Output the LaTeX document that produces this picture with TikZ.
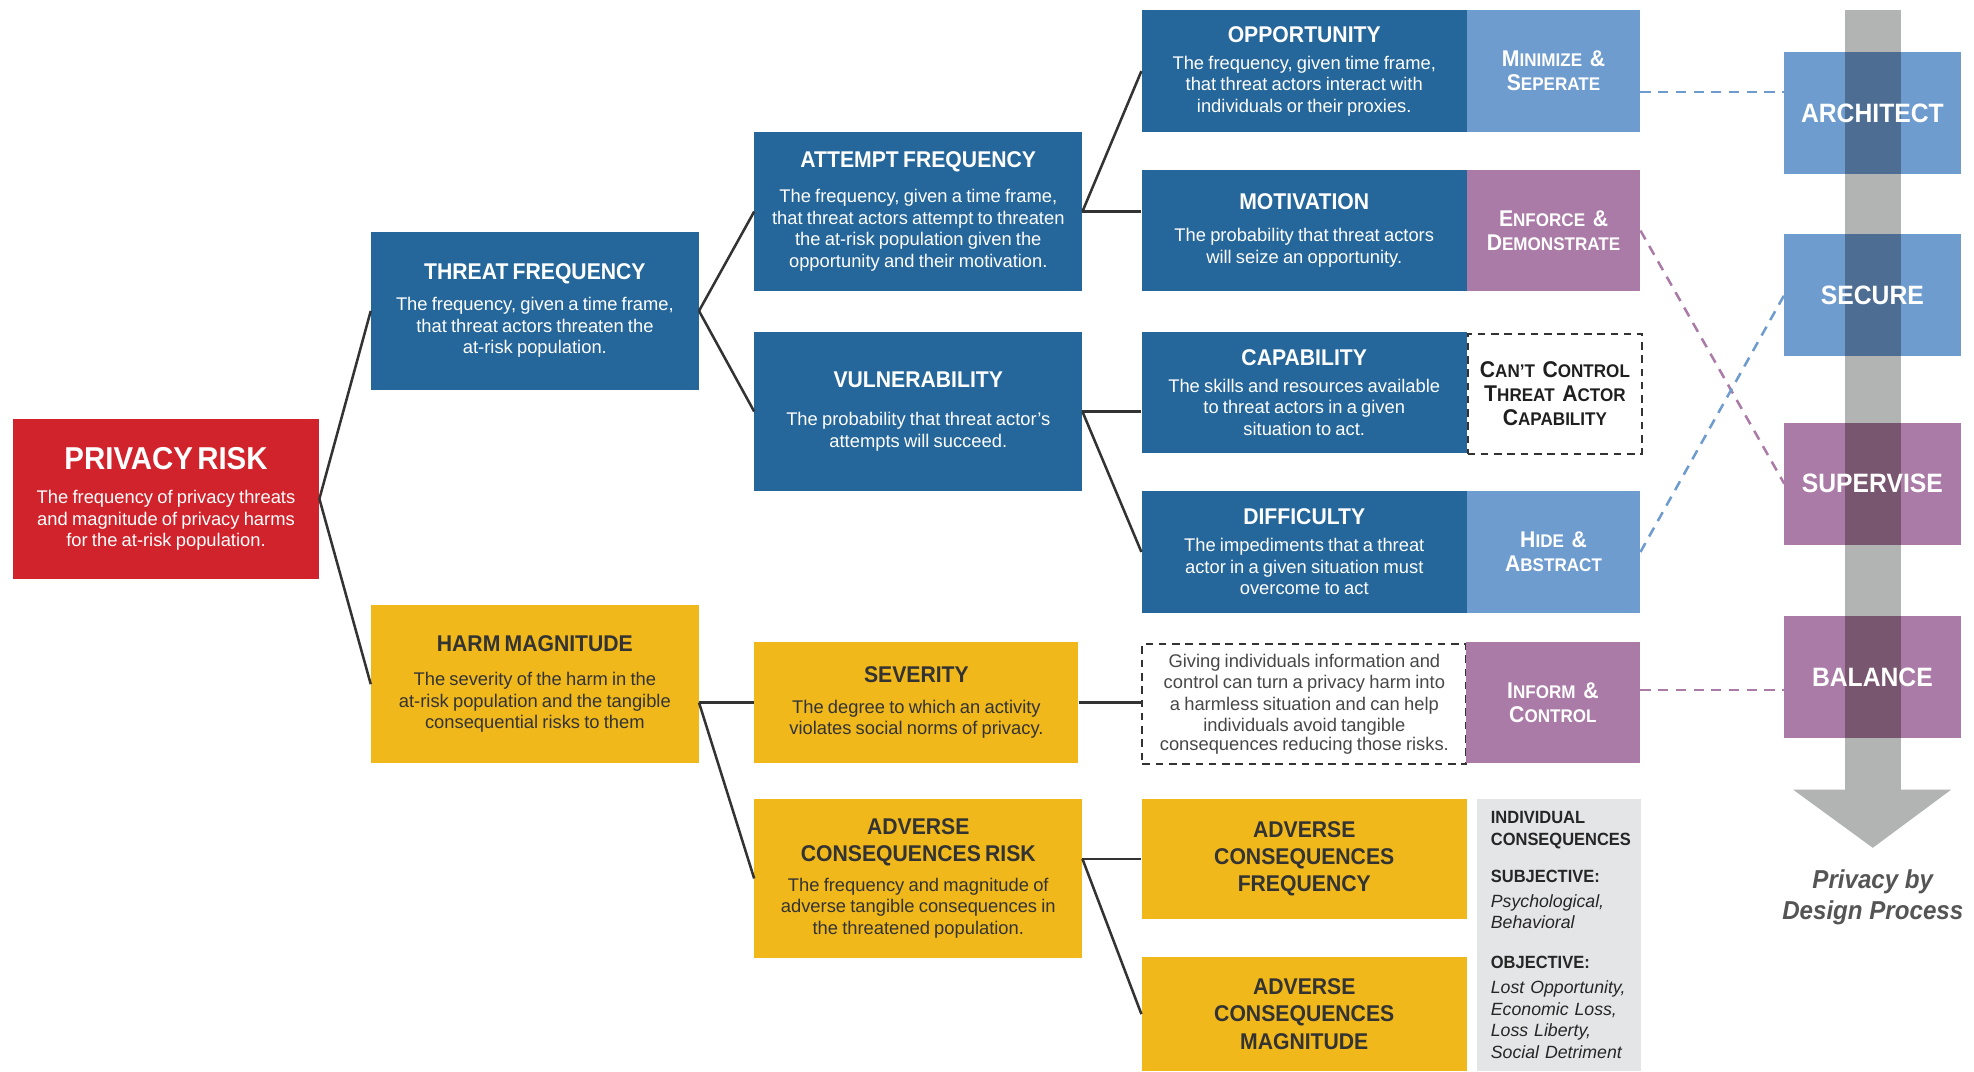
\documentclass[tikz,border=0pt]{standalone}
\usepackage{fontspec}
\newfontfamily\nf{Liberation Sans}[FakeStretch=0.93]
\newfontfamily\nb{Liberation Sans}
\usetikzlibrary{calc}
\definecolor{dblue}{HTML}{25679A}
\definecolor{lblue}{HTML}{6E9CCF}
\definecolor{purp}{HTML}{AB7BA7}
\definecolor{rred}{HTML}{D1232B}
\definecolor{yel}{HTML}{F0B81B}
\definecolor{gboxc}{HTML}{E4E5E7}
\definecolor{shaftc}{HTML}{B2B3B3}
\definecolor{ovblue}{HTML}{4D6D92}
\definecolor{ovpurp}{HTML}{78566F}
\definecolor{ink}{HTML}{333333}
\definecolor{pbdc}{HTML}{555555}
\newcommand\ttl{\nf\bfseries\fontsize{18}{21.5}\selectfont}
\newcommand\bdy{\nb\fontsize{14.5}{17}\selectfont}
\newcommand\bx[3]{{\ttl #1\par}\vspace{#2}{\bdy #3\par}}
\newcommand\SCx[2]{{\fontsize{18}{19}\selectfont #1}{\fontsize{14.5}{19}\selectfont #2}}
\pgfdeclarelayer{bg}
\pgfsetlayers{bg,main}
\tikzset{
  box/.style={rectangle, inner sep=0pt, anchor=north west, align=center},
  sz/.style n args={3}{minimum width=#1pt, minimum height=#2pt, text width=#3pt},
  bluebox/.style={box, fill=dblue, text=white},
  yelbox/.style={box, fill=yel, text=ink},
  lab/.style={box, text=white, font=\nf\bfseries\fontsize{18}{19}\selectfont},
  dbox/.style={box, draw=ink, line width=1.6pt, dash pattern=on 6pt off 4.5pt},
  rbox/.style={rectangle, inner sep=0pt, anchor=north west, minimum width=139pt, minimum height=96pt, text=white, font=\nf\bfseries\fontsize{21}{24}\selectfont},
  conn/.style={draw=ink, line width=2pt},
  dconn/.style={line width=2pt, dash pattern=on 8pt off 6pt},
}
\begin{document}
\begin{tikzpicture}[x=1pt,y=-1pt]
\useasboundingbox (0,0) rectangle (1560,846.4);
% column 1
\node[box, fill=rred, text=white, sz={242}{126}{236}] (pr) at (10,331)
  {{\nf\bfseries\fontsize{25}{28}\selectfont PRIVACY RISK\par}\vspace{10pt}{\bdy The frequency of privacy threats\\ and magnitude of privacy harms\\ for the at-risk population.\par}};
% column 2
\node[bluebox, sz={259}{125}{255}] (tf) at (293,183)
  {\bx{THREAT FREQUENCY}{7.5pt}{The frequency, given a time frame,\\ that threat actors threaten the\\ at-risk population.}};
\node[yelbox, sz={259}{125}{255}] (hm) at (293,478)
  {\bx{HARM MAGNITUDE}{9.5pt}{The severity of the harm in the\\ at-risk population and the tangible\\ consequential risks to them}};
% column 3
\node[bluebox, sz={259}{126}{255}] (at) at (596,104)
  {\bx{ATTEMPT FREQUENCY}{10.5pt}{The frequency, given a time frame,\\ that threat actors attempt to threaten\\ the at-risk population given the\\ opportunity and their motivation.}};
\node[bluebox, sz={259}{126}{255}] (vu) at (596,262)
  {\bx{VULNERABILITY}{13.5pt}{The probability that threat actor’s\\ attempts will succeed.}};
\node[yelbox, sz={256}{96}{252}] (sv) at (596,507)
  {\bx{SEVERITY}{7.5pt}{The degree to which an activity\\ violates social norms of privacy.}};
\node[yelbox, sz={259}{126}{255}] (acr) at (596,631)
  {\bx{ADVERSE\\ CONSEQUENCES RISK}{6.5pt}{The frequency and magnitude of\\ adverse tangible consequences in\\ the threatened population.}};
% column 4
\node[bluebox, sz={257}{96}{253}] (op) at (902,8)
  {\bx{OPPORTUNITY}{4.5pt}{The frequency, given time frame,\\ that threat actors interact with\\ individuals or their proxies.}};
\node[bluebox, sz={257}{96}{253}] (mo) at (902,134)
  {\bx{MOTIVATION}{8.5pt}{The probability that threat actors\\ will seize an opportunity.}};
\node[bluebox, sz={257}{96}{253}] (ca) at (902,262)
  {\bx{CAPABILITY}{4.5pt}{The skills and resources available\\ to threat actors in a given\\ situation to act.}};
\node[bluebox, sz={257}{96}{253}] (di) at (902,388)
  {\bx{DIFFICULTY}{4.5pt}{The impediments that a threat\\ actor in a given situation must\\ overcome to act}};
\node[dbox, text=black!72, sz={256}{95}{252}] (db) at (902,508)
  {\bdy Giving individuals information and\\ control can turn a privacy harm into\\ a harmless situation and can help\\ individuals avoid tangible\\ consequences reducing those risks.};
\node[yelbox, sz={257}{95}{253}] (acf) at (902,631)
  {{\ttl ADVERSE\\ CONSEQUENCES\\ FREQUENCY\par}};
\node[yelbox, sz={257}{90.4}{253}] (acm) at (902,756)
  {{\ttl ADVERSE\\ CONSEQUENCES\\ MAGNITUDE\par}};
% column 5
\node[lab, fill=lblue, sz={137}{96}{135}] (ms) at (1159,8)
  {\SCx{M}{INIMIZE} \SCx{\&}{}\\ \SCx{S}{EPERATE}};
\node[lab, fill=purp, sz={137}{96}{135}] (ed) at (1159,134)
  {\SCx{E}{NFORCE} \SCx{\&}{}\\ \SCx{D}{EMONSTRATE}};
\node[dbox, text=black!88, font=\nf\bfseries\fontsize{18}{19}\selectfont, sz={138}{95}{136}] (cc) at (1159,263)
  {\SCx{C}{AN’T} \SCx{C}{ONTROL}\\ \SCx{T}{HREAT} \SCx{A}{CTOR}\\ \SCx{C}{APABILITY}};
\node[lab, fill=lblue, sz={137}{96}{135}] (ha) at (1159,388)
  {\SCx{H}{IDE} \SCx{\&}{}\\ \SCx{A}{BSTRACT}};
\node[lab, fill=purp, sz={138}{96}{136}] (ic) at (1158,507)
  {\SCx{I}{NFORM} \SCx{\&}{}\\ \SCx{C}{ONTROL}};
\node[rectangle, inner sep=0pt, anchor=north west, fill=gboxc, text=black!85, align=left,
      minimum width=130pt, minimum height=215.4pt, text width=130pt, font=\fontsize{14}{17}\selectfont] (gb) at (1167,631)
  {\leftskip=11pt {\nf\bfseries INDIVIDUAL\\ CONSEQUENCES\par}\vspace{12pt}{\nf\bfseries SUBJECTIVE:\par}\vspace{3pt}{\nb\itshape Psychological,\\ Behavioral\par}\vspace{14pt}{\nf\bfseries OBJECTIVE:\par}\vspace{3pt}{\nb\itshape Lost Opportunity,\\ Economic Loss,\\ Loss Liberty,\\ Social Detriment\par}};
% process column
\node[rbox] (arch) at (1410,41) {ARCHITECT};
\node[rbox] (sec) at (1410,185) {SECURE};
\node[rbox] (sup) at (1410,334) {SUPERVISE};
\node[rbox] (bal) at (1410,487) {BALANCE};
\node[align=center, text=pbdc, font=\nf\bfseries\itshape\fontsize{20.5}{25}\selectfont] (pbd) at (1480,709) {Privacy by\\ Design Process};
\coordinate (shl) at (1458,8);
\coordinate (shr) at (1502,8);
\begin{pgfonlayer}{bg}
  \fill[shaftc] (shl) rectangle (1502,624);
  \fill[shaftc] (1417,624) -- (1542,624) -- (1480,670) -- cycle;
  \foreach \n/\c/\o in {arch/lblue/ovblue, sec/lblue/ovblue, sup/purp/ovpurp, bal/purp/ovpurp}{
    \fill[\c] (\n.north west) rectangle (\n.south east);
    \fill[\o] (\n.north west -| shl) rectangle (\n.south east -| shr);
  }
\end{pgfonlayer}
% solid connectors
\draw[conn] (pr.east) -- (tf.west);
\draw[conn] (pr.east) -- (hm.west);
\draw[conn] (tf.east) -- (at.west);
\draw[conn] (tf.east) -- (vu.west);
\draw[conn] (at.east) -- (op.west);
\draw[conn] (at.east) -- (at.east -| mo.west);
\draw[conn] (vu.east) -- (vu.east -| ca.west);
\draw[conn] (vu.east) -- (di.west);
\draw[conn] (hm.east |- sv.west) -- (sv.west);
\draw[conn] (hm.east |- sv.west) -- (acr.west);
\draw[conn] (sv.east) -- (sv.east -| db.west);
\draw[conn] (acr.east |- acf.west) -- (acf.west);
\draw[conn] (acr.east |- acf.west) -- (acm.west);
% dashed connectors
\coordinate (m1) at ($(ms.east)!0.5!(arch.west)$);
\draw[dconn, lblue] (ms.east |- m1) -- (arch.west |- m1);
\draw[dconn, purp] (ed.east) -- (sup.west);
\draw[dconn, lblue] (ha.east) -- (sec.west);
\coordinate (m2) at ($(ic.east)!0.5!(bal.west)$);
\draw[dconn, purp] (ic.east |- m2) -- (bal.west |- m2);
\end{tikzpicture}
\end{document}
